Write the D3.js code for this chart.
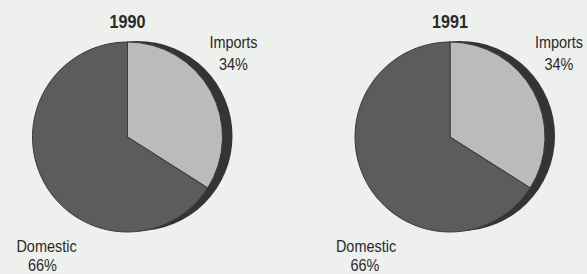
<!DOCTYPE html>
<html>
<head>
<meta charset="utf-8">
<script src="https://cdn.jsdelivr.net/npm/d3@7"></script>
<style>
  html, body { margin: 0; padding: 0; background: #eef0ed; }
  svg { display: block; }
  text { font-family: "Liberation Sans", Arial, sans-serif; fill: #2a2a2a; }
</style>
</head>
<body>
<svg id="chart" width="587" height="274"></svg>
<script>
const years = ["1990", "1991"];
const categories = ["Imports", "Domestic"];
const values1990 = [34, 66];
const values1991 = [34, 66];
const seriesValues = [values1990, values1991];
const colors = ["#b9bcba", "#5c5d5b"];

const W = 587, H = 274;
const svg = d3.select("#chart");
svg.append("rect").attr("width", W).attr("height", H).attr("fill", "#eef0ed");

const x = d3.scalePoint().domain(years).range([127.5, 450]);
const r = 95;
const cy = 137;

const pie = d3.pie().sort(null).value(d => d.value);
const arc = d3.arc().innerRadius(0).outerRadius(r);

function label(g, tx, ty, str, size, bold) {
  g.append("text")
    .attr("transform", `translate(${tx},${ty}) scale(0.85,1)`)
    .attr("text-anchor", "middle")
    .style("font-size", size + "px")
    .style("font-weight", bold ? "bold" : "normal")
    .text(str);
}

years.forEach((yr, i) => {
  const cx = x(yr);
  const g = svg.append("g").attr("transform", `translate(${cx},${cy})`);
  // 3D edge / shadow
  g.append("circle").attr("cx", 10).attr("cy", -1).attr("r", r).attr("fill", "#343433");
  const data = categories.map((c, k) => ({ cat: c, value: seriesValues[i][k] }));
  const arcs = pie(data);
  g.selectAll("path.slice").data(arcs).join("path")
    .attr("class", "slice")
    .attr("d", arc)
    .attr("fill", (d, k) => colors[k])
    .attr("stroke", "#3a3a39")
    .attr("stroke-width", 1);
  const ix = i === 0 ? 106 : 109;
  label(g, 0, -109, yr, 19, true);
  label(g, ix, -89, categories[0], 17);
  label(g, ix, -67, seriesValues[i][0] + "%", 17);
  label(g, i === 0 ? -81 : -84, 115, categories[1], 17);
  label(g, i === 0 ? -85 : -85, 134, seriesValues[i][1] + "%", 17);
});
</script>
</body>
</html>
